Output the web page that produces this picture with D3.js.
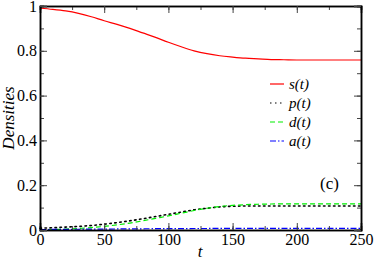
<!DOCTYPE html>
<html>
<head>
<meta charset="utf-8">
<script src="https://cdn.jsdelivr.net/npm/d3@7"></script>
</head>
<body style="margin:0; background:#fff">
<svg id="chart" width="374" height="261"></svg>
<script>
// time points
const tValues = [0, 10, 20, 30, 40, 50, 60, 70, 80, 90, 100, 110, 120, 130, 140, 150, 160, 170, 180, 190, 200, 210, 220, 230, 240, 250]
const sValues = [0.99, 0.985, 0.978, 0.967, 0.952, 0.934, 0.918, 0.9, 0.88, 0.86, 0.838, 0.818, 0.8, 0.787, 0.778, 0.772, 0.767, 0.764, 0.761, 0.76, 0.759, 0.759, 0.759, 0.759, 0.759, 0.759]
const pValues = [0.008, 0.01, 0.013, 0.016, 0.02, 0.026, 0.033, 0.041, 0.05, 0.06, 0.07, 0.08, 0.09, 0.097, 0.103, 0.106, 0.107, 0.107, 0.107, 0.107, 0.107, 0.107, 0.107, 0.107, 0.107, 0.107]
const dValues = [0, 0.002, 0.004, 0.007, 0.011, 0.016, 0.023, 0.031, 0.041, 0.052, 0.063, 0.075, 0.087, 0.097, 0.105, 0.11, 0.113, 0.115, 0.116, 0.117, 0.117, 0.117, 0.117, 0.117, 0.117, 0.117]
const aValues = [0.002, 0.0025, 0.003, 0.0034, 0.0038, 0.0042, 0.0046, 0.005, 0.0054, 0.0058, 0.006, 0.0063, 0.0066, 0.0068, 0.007, 0.0072, 0.0073, 0.0074, 0.0075, 0.0075, 0.0075, 0.0075, 0.0075, 0.0075, 0.0075, 0.0075]

const xTicks = [0, 50, 100, 150, 200, 250]
const yTicks = [0, 0.2, 0.4, 0.6, 0.8, 1]
const yTickLabels = ['0', '0.2', '0.4', '0.6', '0.8', '1']

const series = [
  { name: 's(t)', values: sValues, color: '#ff0000', dash: null },
  { name: 'p(t)', values: pValues, color: '#000000', dash: '1.5,3.5' },
  { name: 'd(t)', values: dValues, color: '#00ee00', dash: '5,3' },
  { name: 'a(t)', values: aValues, color: '#0000ff', dash: '6,2,1.5,2' }
]

const fontName = 'Liberation Serif'

const svg = d3.select('#chart')
const margin = {top: 6, right: 13, bottom: 31, left: 40}
const width = +svg.attr('width') - margin.left - margin.right
const height = +svg.attr('height') - margin.top - margin.bottom
const g = svg.append('g').attr('transform', 'translate(' + margin.left + ',' + margin.top + ')')

const x = d3.scaleLinear().domain([0, 250]).range([0, width])
const y = d3.scaleLinear().domain([0, 1]).range([height, 0])

// curves
const line = d3.line()
  .x(function (d, i) { return x(tValues[i]) })
  .y(function (d) { return y(d) })
  .curve(d3.curveMonotoneX)

series.forEach(function (s) {
  g.append('path')
    .datum(s.values)
    .attr('fill', 'none')
    .attr('stroke', s.color)
    .attr('stroke-width', s.name === 'p(t)' ? 1.6 : 1.2)
    .attr('stroke-dasharray', s.dash)
    .attr('stroke-linecap', s.name === 'p(t)' ? 'round' : 'butt')
    .attr('d', line)
})

// axes, ticks pointing inward
const minorX = d3.range(0, 251, 25)
const minorY = d3.range(0, 1.01, 0.1)

g.append('g')
  .attr('transform', 'translate(0,' + height + ')')
  .call(d3.axisBottom(x).tickValues(minorX).tickSize(-4).tickFormat(''))
g.append('g')
  .attr('transform', 'translate(0,' + height + ')')
  .call(d3.axisBottom(x).tickValues(xTicks).tickSize(-7).tickPadding(4).tickFormat(d3.format('d')))
g.append('g')
  .call(d3.axisTop(x).tickValues(minorX).tickSize(-4).tickFormat(''))
g.append('g')
  .call(d3.axisTop(x).tickValues(xTicks).tickSize(-7).tickFormat(''))

g.append('g')
  .call(d3.axisLeft(y).tickValues(minorY).tickSize(-4).tickFormat(''))
g.append('g')
  .call(d3.axisLeft(y).tickValues(yTicks).tickSize(-7).tickPadding(3)
    .tickFormat(function (d, i) { return yTickLabels[i] }))
g.append('g')
  .attr('transform', 'translate(' + width + ',0)')
  .call(d3.axisRight(y).tickValues(minorY).tickSize(-4).tickFormat(''))
g.append('g')
  .attr('transform', 'translate(' + width + ',0)')
  .call(d3.axisRight(y).tickValues(yTicks).tickSize(-7).tickFormat(''))

g.selectAll('g').attr('font-family', null)
g.selectAll('.domain').attr('stroke', '#000').attr('stroke-width', 1.5)
g.selectAll('.tick line').attr('stroke', '#444')
g.selectAll('.tick text')
  .style('font-family', fontName)
  .style('font-size', '16px')
  .attr('fill', '#000')

// axis titles
svg.append('text')
  .attr('x', 200)
  .attr('y', 257)
  .attr('text-anchor', 'middle')
  .style('font-family', fontName)
  .style('font-style', 'italic')
  .style('font-size', '17px')
  .text('t')

svg.append('text')
  .attr('transform', 'translate(14,' + (margin.top + height / 2) + ') rotate(-90)')
  .attr('text-anchor', 'middle')
  .style('font-family', fontName)
  .style('font-style', 'italic')
  .style('font-size', '17px')
  .text('Densities')

// legend
const legend = svg.append('g')
  .selectAll('g')
  .data(series)
  .enter().append('g')
  .attr('transform', function (d, i) { return 'translate(270,' + (84 + i * 19) + ')' })

legend.append('line')
  .attr('x1', 0)
  .attr('x2', 14)
  .attr('stroke', function (d) { return d.color })
  .attr('stroke-width', 1.2)
  .attr('stroke-dasharray', function (d) { return d.dash })

legend.append('text')
  .attr('x', 19)
  .attr('dy', '0.35em')
  .style('font-family', fontName)
  .style('font-style', 'italic')
  .style('font-size', '15px')
  .text(function (d) { return d.name })

svg.append('text')
  .attr('x', 320)
  .attr('y', 189)
  .style('font-family', fontName)
  .style('font-size', '17px')
  .text('(c)')
</script>
</body>
</html>
